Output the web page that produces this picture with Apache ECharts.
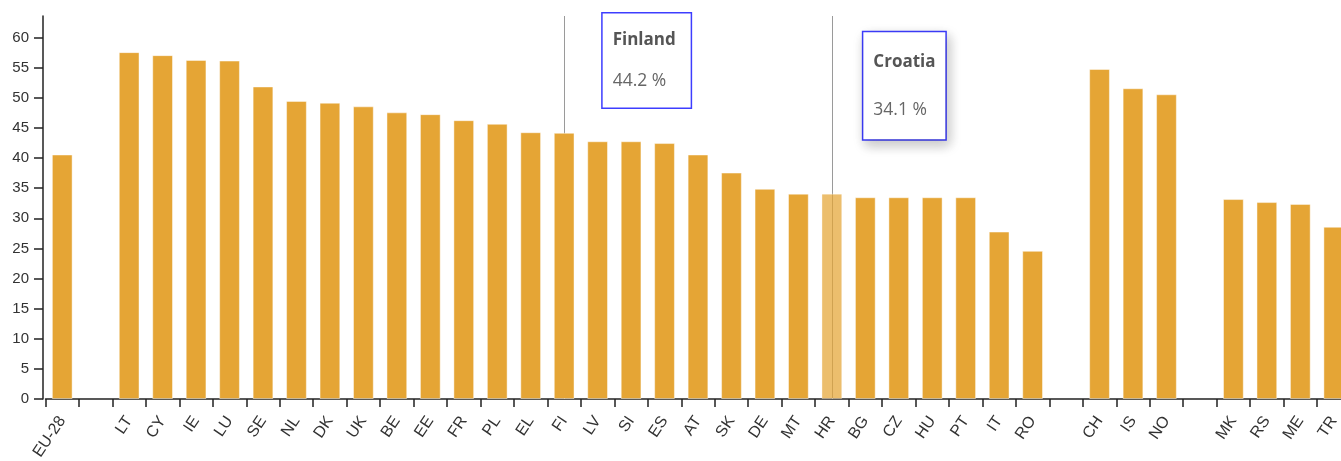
<!DOCTYPE html>
<html>
<head>
<meta charset="utf-8">
<script src="https://cdn.jsdelivr.net/npm/echarts@6/dist/echarts.min.js"></script>
<style>
  html, body { margin: 0; padding: 0; background: #fff; }
  #container { width: 1341px; height: 461px; }
</style>
</head>
<body>
<div id="container"></div>
<script>
// categories ('' = empty slot between groups)
var categories = ['EU-28', '', 'LT', 'CY', 'IE', 'LU', 'SE', 'NL', 'DK', 'UK', 'BE', 'EE', 'FR', 'PL', 'EL', 'FI',
    'LV', 'SI', 'ES', 'AT', 'SK', 'DE', 'MT', 'HR', 'BG', 'CZ', 'HU', 'PT', 'IT', 'RO', '', 'CH', 'IS', 'NO', '',
    'MK', 'RS', 'ME', 'TR'];
// percentages
var values = [40.6, null, 57.6, 57.1, 56.3, 56.2, 51.9, 49.5, 49.2, 48.6, 47.6, 47.3, 46.3, 45.7, 44.3, 44.2,
    42.8, 42.8, 42.5, 40.6, 37.6, 34.9, 34.1, 34.1, 33.5, 33.5, 33.5, 33.5, 27.8, 24.6, null, 54.8, 51.6, 50.6, null,
    33.2, 32.7, 32.4, 28.6];
var yTicks = [0, 5, 10, 15, 20, 25, 30, 35, 40, 45, 50, 55, 60];
// tooltips left on screen
var tipCodes = ['FI', 'HR'];
var tipNames = ['Finland', 'Croatia'];
var hoverCode = 'HR';

var barColor = '#e5a535';
var axisColor = '#222';

var dom = document.getElementById('container');
var myChart = echarts.init(dom);

var barData = values.map(function (v, i) {
    if (v === null) return '-';
    if (categories[i] === hoverCode) {
        return { value: v, itemStyle: { opacity: 0.72 } };
    }
    return v;
});

// tooltip box label
function tipLabel(name, value, box) {
    return {
        show: true,
        position: box.pos,
        formatter: '{t|' + name + '}\n{g|}\n{v|' + value + ' %}',
        backgroundColor: '#fff',
        borderColor: '#3d3dff',
        borderWidth: 1.5,
        padding: box.padding,
        width: box.width,
        shadowBlur: box.shadow ? 12 : 0,
        shadowColor: box.shadow ? 'rgba(0,0,0,0.22)' : 'rgba(0,0,0,0)',
        shadowOffsetX: box.shadow ? 3 : 0,
        shadowOffsetY: box.shadow ? 5 : 0,
        rich: {
            t: { fontFamily: 'Open Sans', fontWeight: 'bold', fontSize: 17, color: '#555', lineHeight: 20 },
            g: { lineHeight: box.gap },
            v: { fontFamily: 'Open Sans', fontSize: 17.5, color: '#666', lineHeight: 20 }
        }
    };
}

var tipBoxes = [
    { top: 63.6, pos: [39, -2], padding: [17, 10, 16, 10], width: 68, gap: 21, shadow: false },
    { top: 60.8, pos: [32, 0], padding: [20, 10, 19, 10], width: 62, gap: 28, shadow: true }
];

var tipPoints = tipCodes.map(function (c, i) {
    var v = values[categories.indexOf(c)];
    return {
        coord: [c, tipBoxes[i].top],
        label: tipLabel(tipNames[i], v, tipBoxes[i])
    };
});

var option = {
    animation: false,
    grid: { left: 45.5, width: 1305, top: 16, bottom: 62, containLabel: false, outerBoundsMode: 'none' },
    xAxis: {
        type: 'category',
        data: categories,
        boundaryGap: true,
        axisLine: { lineStyle: { color: axisColor, width: 1.5 } },
        axisTick: { show: true, interval: 0, length: 8, lineStyle: { color: axisColor, width: 1.5 } },
        axisLabel: {
            interval: 0,
            rotate: 56,
            margin: 19,
            fontFamily: 'Liberation Sans',
            fontSize: 16,
            color: '#333'
        },
        splitLine: { show: false }
    },
    yAxis: {
        type: 'value',
        min: 0,
        max: 63.6,
        offset: 2.5,
        axisLine: { show: true, lineStyle: { color: axisColor, width: 1.5 } },
        axisTick: { show: true, length: 9, customValues: yTicks, lineStyle: { color: axisColor, width: 1.5 } },
        axisLabel: {
            customValues: yTicks,
            margin: 14,
            fontFamily: 'Liberation Sans',
            fontSize: 15,
            color: '#333'
        },
        splitLine: { show: false }
    },
    series: [
        {
            // pointer lines, under the bars
            type: 'bar',
            data: [],
            z: 1,
            markLine: {
                z: 1,
                silent: true,
                symbol: 'none',
                label: { show: false },
                lineStyle: { color: '#9a9a9a', width: 1, type: 'solid' },
                data: tipCodes.map(function (c) { return { xAxis: c }; })
            }
        },
        {
            type: 'bar',
            data: barData,
            z: 2,
            barGap: '-100%',
            barCategoryGap: '38%',
            itemStyle: { color: barColor, borderColor: 'rgba(255,255,255,0.45)', borderWidth: 1 },
            markPoint: {
                z: 10,
                symbol: 'rect',
                symbolSize: 1,
                itemStyle: { color: 'rgba(0,0,0,0)' },
                data: tipPoints
            }
        }
    ]
};

if (option && typeof option === "object") {
    myChart.setOption(option, true);
}
</script>
</body>
</html>
